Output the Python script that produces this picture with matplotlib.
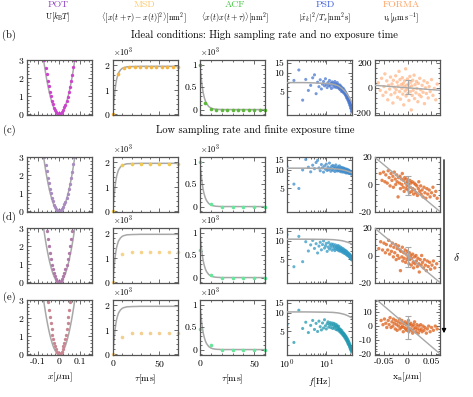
import numpy as np
import matplotlib
matplotlib.use("Agg")
import matplotlib.pyplot as plt
from matplotlib.patches import FancyArrowPatch
from matplotlib.ticker import AutoMinorLocator, NullFormatter

plt.rcParams.update({
    "font.family": "serif",
    "font.serif": ["cmr10", "DejaVu Serif"],
    "mathtext.fontset": "cm",
    "axes.formatter.use_mathtext": True,
    "font.size": 7,
})

# ---------------- data ----------------
# POT: binned potential (dots) and harmonic fit (gray)
pot_x_wide = [-0.07, -0.065, -0.06, -0.055, -0.05, -0.045, -0.04, -0.035, -0.03, -0.025, -0.02, -0.015, -0.01, -0.005, 0.0,
              0.005, 0.01, 0.015, 0.02, 0.025, 0.03, 0.035, 0.04, 0.045, 0.05, 0.055, 0.06, 0.065, 0.07]
pot_u_wide = [3.0, 2.58, 2.21, 1.84, 1.54, 1.23, 0.99, 0.74, 0.56, 0.37, 0.25, 0.13, 0.07, 0.02, 0.0,
              0.01, 0.06, 0.14, 0.23, 0.39, 0.54, 0.76, 0.97, 1.25, 1.52, 1.86, 2.19, 2.6, 2.99]
pot_x_d = [-0.06, -0.055, -0.05, -0.045, -0.04, -0.035, -0.03, -0.025, -0.02, -0.015, -0.01, -0.005, 0.0,
           0.005, 0.01, 0.015, 0.02, 0.025, 0.03, 0.035, 0.04, 0.045, 0.05, 0.055, 0.06]
pot_u_d = [2.85, 2.39, 1.98, 1.6, 1.27, 0.97, 0.71, 0.49, 0.32, 0.18, 0.08, 0.02, 0.0,
           0.02, 0.08, 0.18, 0.32, 0.49, 0.71, 0.97, 1.27, 1.6, 1.98, 2.39, 2.85]
pot_x_e = [-0.052, -0.048, -0.044, -0.04, -0.036, -0.032, -0.028, -0.024, -0.02, -0.016, -0.012, -0.008, -0.004, 0.0,
           0.004, 0.008, 0.012, 0.016, 0.02, 0.024, 0.028, 0.032, 0.036, 0.04, 0.044, 0.048, 0.052]
pot_u_e = [2.89, 2.46, 2.07, 1.71, 1.38, 1.09, 0.84, 0.62, 0.43, 0.27, 0.15, 0.07, 0.02, 0.0,
           0.02, 0.07, 0.15, 0.27, 0.43, 0.62, 0.84, 1.09, 1.38, 1.71, 2.07, 2.46, 2.89]
pot_fit_x = [-0.085, -0.08, -0.075, -0.07, -0.065, -0.06, -0.055, -0.05, -0.045, -0.04, -0.035, -0.03, -0.025, -0.02,
             -0.015, -0.01, -0.005, 0.0, 0.005, 0.01, 0.015, 0.02, 0.025, 0.03, 0.035, 0.04, 0.045, 0.05, 0.055,
             0.06, 0.065, 0.07, 0.075, 0.08, 0.085]
pot_fit_u = [3.96, 3.51, 3.08, 2.68, 2.31, 1.97, 1.66, 1.37, 1.11, 0.88, 0.67, 0.49, 0.34, 0.22,
             0.12, 0.05, 0.01, 0.0, 0.01, 0.05, 0.12, 0.22, 0.34, 0.49, 0.67, 0.88, 1.11, 1.37, 1.66,
             1.97, 2.31, 2.68, 3.08, 3.51, 3.96]

# MSD (x10^3 nm^2)
msd_tau_b = [0, 5.8, 11.7, 17.5, 23.3, 29.2, 35.0, 40.8, 46.7, 52.5, 58.3, 64.2, 70.0]
msd_b = [0, 1.65, 1.89, 1.93, 1.94, 1.94, 1.95, 1.94, 1.95, 1.94, 1.95, 1.95, 1.94]
msd_tau = [0, 10, 20, 30, 40, 50, 60, 70]
msd_c = [0, 1.89, 1.95, 1.95, 1.95, 1.95, 1.95, 1.95]
msd_d = [0, 1.15, 1.25, 1.25, 1.25, 1.25, 1.25, 1.25]
msd_e = [0, 0.70, 0.88, 0.88, 0.88, 0.88, 0.88, 0.88]
msd_fit_tau = [0, 0.5, 1, 2, 3, 4, 5, 6, 8, 10, 12, 15, 20, 30, 70]
msd_fit = [0, 0.30, 0.55, 0.95, 1.23, 1.44, 1.58, 1.69, 1.81, 1.88, 1.91, 1.94, 1.95, 1.96, 1.96]

# ACF (x10^3 nm^2)
acf_tau_b = [0, 5, 10, 15, 20, 25, 30, 35, 40, 45, 50, 55, 60]
acf_b = [1.0, 0.15, 0.01, 0, 0, 0, 0, 0, 0, 0, 0, 0, 0]
acf_tau = [0, 10, 20, 30, 40, 50, 60]
acf_c = [1.0, 0.05, 0, 0, 0, 0, 0]
acf_d = [0.62, 0.05, 0, 0, 0, 0, 0]
acf_e = [0.45, 0.10, 0, 0, 0, 0, 0]
acf_fit_tau = [0, 0.5, 1, 2, 3, 4, 5, 6, 8, 10, 12, 15, 20, 60]
acf_fit = [1.0, 0.846, 0.717, 0.513, 0.368, 0.264, 0.189, 0.135, 0.069, 0.036, 0.018, 0.007, 0.001, 0.0]

# PSD
psd_f = np.arange(1.0, 45.0, 0.5)
psd_b = [4.0, 7.6, 11.3, 3.6, 7.9, 5.2, 6.3, 8.4, 9.4, 4.6, 7.1, 6.0, 7.8, 5.5, 6.6, 7.3, 6.2, 8.1,
         6.5, 5.8, 7.0, 6.3, 7.6, 6.1, 6.8, 5.6, 7.2, 6.4, 6.9, 5.9, 6.6, 7.3, 6.1, 6.7, 5.8, 6.4, 7.0, 6.0,
         6.5, 5.7, 6.2, 5.5, 6.4, 5.9, 5.3, 6.1, 5.6, 5.0, 5.8, 5.2, 5.5, 4.9, 5.6, 5.1, 4.7, 5.3, 4.8, 5.0,
         4.5, 4.9, 4.3, 4.7, 4.4, 4.0, 4.5, 4.1, 3.8, 4.2, 3.9, 3.6, 4.0, 3.5, 3.7, 3.3, 3.6, 3.2, 3.4, 3.0,
         3.3, 2.9, 3.1, 2.7, 3.0, 2.6, 2.8, 2.4, 2.6, 2.3]
psd_c = [11.5, 5.9, 5.0, 10.1, 15.0, 11.2, 9.4, 12.1, 10.6, 13.4, 14.5, 10.9, 9.8, 12.4, 11.0, 9.3, 11.8, 10.4,
         12.6, 9.9, 11.3, 10.2, 13.1, 10.7, 9.6, 11.5, 10.3, 12.0, 9.9, 10.8, 11.6, 9.5, 10.9, 12.2, 10.1, 11.0,
         9.7, 10.6, 11.4, 9.9, 10.5, 11.8, 9.6, 10.7, 10.0, 11.2, 9.4, 10.4, 11.0, 9.8, 10.6, 9.3, 10.9, 10.1,
         9.5, 10.7, 9.9, 10.3, 9.2, 10.5, 9.7, 10.1, 9.0, 9.9, 10.4, 9.4, 9.8, 9.1, 10.2, 9.5, 9.0, 9.8, 9.3,
         10.0, 8.9, 9.6, 9.2, 9.7, 8.8, 9.4, 9.0, 9.5, 8.7, 9.2, 8.9, 9.3, 8.6, 9.0]
psd_d = [12.8, 3.8, 12.0, 4.6, 9.8, 6.9, 8.7, 10.3, 7.6, 9.1, 6.4, 8.3, 9.6, 7.2, 8.8, 10.1, 7.7, 8.4,
         9.2, 6.8, 8.0, 9.5, 7.4, 8.6, 7.9, 9.0, 7.1, 8.3, 8.9, 7.5, 8.1, 7.0, 8.7, 7.6, 8.2, 7.3, 7.9, 8.5,
         7.1, 7.7, 8.3, 6.9, 7.6, 7.2, 8.0, 6.8, 7.4, 7.0, 7.7, 6.6, 7.2, 6.9, 7.5, 6.4, 7.0, 6.7, 7.2, 6.3,
         6.8, 6.5, 7.0, 6.1, 6.6, 6.3, 6.8, 5.9, 6.4, 6.1, 6.5, 5.8, 6.2, 5.9, 6.3, 5.6, 6.0, 5.7, 6.1, 5.4,
         5.8, 5.5, 5.9, 5.3, 5.6, 5.2, 5.5, 5.0, 5.3, 4.9]
psd_e = [6.5, 3.3, 11.2, 5.6, 7.1, 4.8, 6.3, 7.6, 5.4, 6.8, 5.0, 7.4, 6.0, 5.3, 6.9, 5.7, 7.8, 6.2,
         5.5, 6.7, 7.2, 5.9, 6.5, 7.0, 5.8, 6.4, 6.9, 5.6, 6.3, 6.8, 5.7, 6.1, 6.6, 5.4, 6.0, 6.4, 5.3, 5.9,
         5.5, 6.1, 5.1, 5.6, 5.3, 4.9, 5.4, 5.0, 4.7, 5.2, 4.8, 4.5, 4.9, 4.6, 4.3, 4.7, 4.4, 4.1, 4.5, 4.2,
         3.9, 4.3, 4.0, 3.7, 4.1, 3.8, 3.5, 3.9, 3.6, 3.3, 3.7, 3.4, 3.1, 3.5, 3.2, 3.0, 3.3, 3.0, 2.8, 3.1,
         2.8, 2.6, 2.9, 2.7, 2.5, 2.7, 2.4, 2.6, 2.3, 2.5]
psd_fit_f = [1, 3, 10, 15, 20, 25, 30, 35, 40, 45]
psd_fit_b = [7.0, 7.0, 6.8, 6.6, 6.2, 5.6, 5.0, 4.4, 3.8, 3.3]
psd_fit_c = [10.8, 10.8, 10.7, 10.6, 10.4, 10.2, 9.9, 9.6, 9.3, 9.1]
psd_fit_d = [10.8, 10.8, 10.7, 10.6, 10.4, 10.2, 9.9, 9.6, 9.3, 9.0]
psd_fit_e = [10.5, 10.5, 10.4, 10.3, 10.1, 9.8, 9.5, 9.1, 8.7, 8.4]

# FORMA: local drift velocity vs position
forma_x_b = [-0.062, -0.058, -0.055, -0.052, -0.050, -0.048, -0.046, -0.044, -0.042, -0.040,
             -0.038, -0.036, -0.035, -0.033, -0.031, -0.030, -0.028, -0.027, -0.025, -0.024,
             -0.022, -0.021, -0.020, -0.018, -0.017, -0.016, -0.015, -0.013, -0.012, -0.011,
             -0.010, -0.009, -0.008, -0.007, -0.006, -0.005, -0.004, -0.003, -0.002, -0.001,
             0.000, 0.001, 0.002, 0.003, 0.004, 0.005, 0.006, 0.007, 0.008, 0.009,
             0.010, 0.011, 0.012, 0.014, 0.015, 0.016, 0.018, 0.019, 0.020, 0.022,
             0.023, 0.025, 0.026, 0.028, 0.029, 0.031, 0.033, 0.035, 0.036, 0.038,
             0.040, 0.042, 0.044, 0.046, 0.048, 0.051, 0.054, 0.057, 0.060, 0.063]
forma_v_b = [40, -20, 75, -60, 10, 110, -35, 55, -95, 20,
             -10, 85, -55, 30, -120, 60, 5, -40, 95, -15,
             45, -75, 15, 130, -30, 65, -90, 25, -5, 80,
             -50, 35, -135, 10, 55, -25, 150, -65, 20, -10,
             70, -45, 30, -100, 5, 90, -30, 45, -175, 15,
             -60, 60, -20, 100, -85, 25, -40, 50, -5, -110,
             35, -55, 75, -15, -70, 20, -35, 55, -125, 0,
             -45, 40, -80, 10, -30, 65, -60, -5, -95, 30]
forma_x_c = [-0.058, -0.054, -0.051, -0.048, -0.046, -0.043, -0.041, -0.039, -0.037, -0.035,
             -0.033, -0.031, -0.030, -0.028, -0.026, -0.025, -0.023, -0.022, -0.020, -0.019,
             -0.017, -0.016, -0.015, -0.013, -0.012, -0.011, -0.009, -0.008, -0.007, -0.006,
             -0.004, -0.003, -0.002, -0.001, 0.000, 0.001, 0.002, 0.004, 0.005, 0.006,
             0.007, 0.009, 0.010, 0.011, 0.013, 0.014, 0.015, 0.017, 0.018, 0.020,
             0.021, 0.023, 0.024, 0.026, 0.028, 0.029, 0.031, 0.033, 0.035, 0.037,
             0.039, 0.041, 0.043, 0.046, 0.048, 0.051, 0.054, 0.057, 0.060, 0.063]
forma_v_c = [8, 3, 9, 2, 7, 1, 10, 5, -1, 8,
             3, 6, -2, 9, 4, 0, 7, 2, -9, 5,
             1, 6, -3, 4, 0, 8, -2, 3, -5, 5,
             1, -3, 4, -1, 2, -4, 0, -6, 3, -2,
             1, -5, 2, -3, -7, 1, -4, 0, -6, -1,
             -8, -3, 2, -5, -1, -7, -4, -9, -2, -6,
             -10, -3, -7, -4, -9, -6, -2, -8, -5, -10]
forma_x_d = [-0.061, -0.057, -0.053, -0.050, -0.047, -0.045, -0.042, -0.040, -0.038, -0.036,
             -0.034, -0.032, -0.030, -0.029, -0.027, -0.025, -0.024, -0.022, -0.021, -0.019,
             -0.018, -0.016, -0.015, -0.014, -0.012, -0.011, -0.010, -0.008, -0.007, -0.005,
             -0.004, -0.003, -0.001, 0.000, 0.001, 0.003, 0.004, 0.005, 0.007, 0.008,
             0.009, 0.011, 0.012, 0.013, 0.015, 0.016, 0.018, 0.019, 0.021, 0.022,
             0.024, 0.025, 0.027, 0.029, 0.030, 0.032, 0.034, 0.036, 0.038, 0.040,
             0.042, 0.044, 0.047, 0.049, 0.052, 0.055, 0.058, 0.062]
forma_v_d = [5, 10, 4, 9, 2, 8, 4, 11, 1, 7,
             3, 9, -1, 6, 2, 8, -3, 5, 0, 7,
             -2, 4, -11, 3, -1, 6, -4, 2, -2, 4,
             -5, 1, -3, 3, -1, -6, 2, -3, 0, -7,
             -2, 1, -5, -9, -1, -6, 0, -4, -8, -2,
             -6, -12, -3, -7, 0, -5, -9, -3, -7, -11,
             -4, -8, -5, -10, -7, -4, -9, -6]
forma_x_e = [-0.056, -0.052, -0.049, -0.046, -0.044, -0.041, -0.039, -0.037, -0.035, -0.033,
             -0.031, -0.030, -0.028, -0.026, -0.025, -0.023, -0.022, -0.020, -0.019, -0.017,
             -0.016, -0.015, -0.013, -0.012, -0.011, -0.009, -0.008, -0.007, -0.005, -0.004,
             -0.003, -0.002, 0.000, 0.001, 0.002, 0.003, 0.005, 0.006, 0.007, 0.009,
             0.010, 0.011, 0.013, 0.014, 0.015, 0.017, 0.018, 0.020, 0.021, 0.023,
             0.024, 0.026, 0.028, 0.029, 0.031, 0.033, 0.035, 0.037, 0.040, 0.042,
             0.045, 0.048, 0.051, 0.055, 0.059, 0.063]
forma_v_e = [4, 1, 5, 2, -1, 4, 1, 6, -1, 3,
             0, 5, 2, -2, 4, 1, -3, 3, 0, 5,
             -2, 2, -1, 4, 0, -4, 2, -1, 3, -2,
             1, -3, 2, -1, 4, -4, 1, -2, 2, -3,
             0, -5, 1, -2, 3, -1, -4, 1, -2, -5,
             0, -3, 1, -2, -4, 0, -3, -1, -5, -2,
             0, -4, -1, -3, 0, -2]
forma_line_x = [-0.075, 0.075]
forma_line_v = [21.4, -21.4]
forma_err_x = [0.0, 0.0, 0.0, 0.0]
forma_err_v = [3, -1, -1, -1]
forma_err_size = [55, 7, 7, 8]

# ---------------- style ----------------
title_cols = ["#8e44c4", "#ffc966", "#44c444", "#3f5fe0", "#ffa15f"]
pot_cols = ["#cc44cc", "#a98bc0", "#b07aa8", "#c98590"]
msd_cols = ["#f5b440", "#f2c94c", "#f7d38a", "#f3cf8f"]
acf_cols = ["#5cb83a", "#66e69a", "#66e69a", "#66e69a"]
psd_cols = ["#4a78d0", "#3f8ccc", "#3399c4", "#2299b0"]
forma_cols = ["#ffa56a", "#dd5f18", "#dd5f18", "#dd5f18"]
forma_alpha = [0.6, 0.75, 0.75, 0.75]
fit_col = "#a8a8a8"
spine_col = "#555555"

W, H = 473, 397
col_x = [27, 113, 200, 287, 375]
row_y = [60, 157, 228, 300]
aw, ah = 65, 55

fig = plt.figure(figsize=(4.73, 3.97), dpi=100)


def make_ax(r, c):
    ax = fig.add_axes([col_x[c] / W, 1 - (row_y[r] + ah) / H, aw / W, ah / H])
    for s in ax.spines.values():
        s.set_color(spine_col)
        s.set_linewidth(0.9)
    ax.tick_params(which="both", direction="in", top=True, right=True, color=spine_col,
                   width=0.6, labelsize=7, pad=2)
    ax.tick_params(which="major", length=3)
    ax.tick_params(which="minor", length=1.5)
    if r < 3:
        ax.tick_params(labelbottom=False)
    return ax


pot_xs = [pot_x_wide, pot_x_wide, pot_x_d, pot_x_e]
pot_us = [pot_u_wide, pot_u_wide, pot_u_d, pot_u_e]
msd_taus = [msd_tau_b, msd_tau, msd_tau, msd_tau]
msds = [msd_b, msd_c, msd_d, msd_e]
acf_taus = [acf_tau_b, acf_tau, acf_tau, acf_tau]
acfs = [acf_b, acf_c, acf_d, acf_e]
psds = [psd_b, psd_c, psd_d, psd_e]
psd_fits = [psd_fit_b, psd_fit_c, psd_fit_d, psd_fit_e]
forma_xs = [forma_x_b, forma_x_c, forma_x_d, forma_x_e]
forma_vs = [forma_v_b, forma_v_c, forma_v_d, forma_v_e]

for r in range(4):
    # POT
    ax = make_ax(r, 0)
    ax.plot(pot_fit_x, pot_fit_u, color=fit_col, lw=1.1, zorder=1)
    ax.plot(pot_xs[r], pot_us[r], "o", ms=2.4, color=pot_cols[r], mec="none", zorder=2)
    ax.set_xlim(-0.153, 0.156)
    ax.set_ylim(-0.04, 3.0)
    ax.set_xticks([-0.1, 0, 0.1])
    ax.set_xticklabels(["-0.1", "0", "0.1"])
    ax.set_yticks([0, 1, 2, 3])
    ax.xaxis.set_minor_locator(AutoMinorLocator(5))
    ax.yaxis.set_minor_locator(AutoMinorLocator(5))
    if r == 3:
        ax.set_xlabel(r"$x[\mu\mathrm{m}]$", fontsize=7, labelpad=3)

    # MSD
    ax = make_ax(r, 1)
    ax.plot(msd_fit_tau, msd_fit, color=fit_col, lw=1.1, zorder=1)
    ax.plot(msd_taus[r], msds[r], "o", ms=2.6, color=msd_cols[r], mec="none", zorder=2, clip_on=False)
    ax.set_xlim(0, 70)
    ax.set_ylim(-0.04, 2.22)
    ax.set_xticks([0, 50])
    ax.set_yticks([0, 1, 2])
    ax.xaxis.set_minor_locator(AutoMinorLocator(5))
    ax.yaxis.set_minor_locator(AutoMinorLocator(5))
    ax.text(0, 1.03, r"$\times10^3$", transform=ax.transAxes, fontsize=6, ha="left", va="bottom")
    if r == 3:
        ax.set_xlabel(r"$\tau[\mathrm{ms}]$", fontsize=7, labelpad=3)

    # ACF
    ax = make_ax(r, 2)
    ax.plot(acf_fit_tau, acf_fit, color=fit_col, lw=1.1, zorder=1)
    ax.plot(acf_taus[r], acfs[r], "o", ms=2.6, color=acf_cols[r], mec="none", zorder=2, clip_on=False)
    ax.set_xlim(0, 60)
    ax.set_ylim(-0.12, 1.1)
    ax.set_xticks([0, 50])
    ax.set_yticks([0, 0.5, 1])
    ax.set_yticklabels(["0", "0.5", "1"])
    ax.xaxis.set_minor_locator(AutoMinorLocator(5))
    ax.yaxis.set_minor_locator(AutoMinorLocator(5))
    ax.text(0, 1.03, r"$\times10^3$", transform=ax.transAxes, fontsize=6, ha="left", va="bottom")
    if r == 3:
        ax.set_xlabel(r"$\tau[\mathrm{ms}]$", fontsize=7, labelpad=3)

    # PSD
    ax = make_ax(r, 3)
    ax.scatter(psd_f, psds[r], s=5, color=psd_cols[r], alpha=0.75, edgecolors="none", zorder=2)
    ax.plot(psd_fit_f, psd_fits[r], color=fit_col, lw=1.1, zorder=3)
    ax.set_xscale("log")
    ax.set_yscale("log")
    ax.set_xlim(1, 45)
    ax.set_ylim(2.05, 16.5)
    ax.set_yticks([5, 10, 15])
    ax.set_yticklabels(["5", "10", "15"])
    ax.yaxis.set_minor_formatter(NullFormatter())
    ax.xaxis.set_minor_formatter(NullFormatter())
    if r == 3:
        ax.set_xlabel(r"$f[\mathrm{Hz}]$", fontsize=7, labelpad=3)

    # FORMA
    ax = make_ax(r, 4)
    ax.scatter(forma_xs[r], forma_vs[r], s=6, color=forma_cols[r], alpha=forma_alpha[r],
               edgecolors="none", zorder=2)
    ax.plot(forma_line_x, forma_line_v, color=fit_col, lw=1.0, zorder=3)
    ax.errorbar(forma_err_x[r], forma_err_v[r], yerr=forma_err_size[r], color=fit_col, lw=0.8,
                capsize=2, capthick=0.8, zorder=4)
    ax.set_xlim(-0.069, 0.069)
    ax.set_xticks([-0.05, 0, 0.05])
    ax.set_xticklabels(["-0.05", "0", "0.05"])
    ax.xaxis.set_minor_locator(AutoMinorLocator(5))
    ax.yaxis.set_minor_locator(AutoMinorLocator(5))
    if r == 0:
        ax.set_ylim(-215, 220)
        ax.set_yticks([-200, 0, 200])
        ax.set_yticklabels(["-200", "0", "200"])
    elif r == 3:
        ax.set_ylim(-20.5, 18.5)
        ax.set_yticks([-20, -10, 0, 10])
        ax.set_yticklabels(["-20", "-10", "0", "10"])
    else:
        ax.set_ylim(-20, 20)
        ax.set_yticks([-20, 0, 20])
        ax.set_yticklabels(["-20", "0", "20"])
    if r == 3:
        ax.set_xlabel(r"$\mathrm{x_n}[\mu\mathrm{m}]$", fontsize=7, labelpad=3)

# column headers
titles = ["POT", "MSD", "ACF", "PSD", "FORMA"]
units = [r"U$[k_\mathrm{B}T]$",
         r"$\langle[x(t+\tau)-x(t)]^2\rangle[\mathrm{nm}^2]$",
         r"$\langle x(t)x(t+\tau)\rangle[\mathrm{nm}^2]$",
         r"$|\hat{x}_k|^2/T_s[\mathrm{nm}^2\,\mathrm{s}]$",
         r"$v_\mathrm{s}[\mu\mathrm{m\,s}^{-1}]$"]
title_x = [58, 144, 235, 325, 401]
for i in range(5):
    fig.text(title_x[i] / W, 1 - 0.5 / H, titles[i], color=title_cols[i], fontsize=7, ha="center", va="top")
    fig.text(title_x[i] / W, 1 - 10.5 / H, units[i], fontsize=5.8, ha="center", va="top")

# section labels
fig.text(9 / W, 1 - 35 / H, "(b)", fontsize=7.5, ha="center", va="center")
fig.text(264 / W, 1 - 35 / H, "Ideal conditions: High sampling rate and no exposure time",
         fontsize=7.5, ha="center", va="center")
fig.text(9 / W, 1 - 130 / H, "(c)", fontsize=7.5, ha="center", va="center")
fig.text(255 / W, 1 - 130 / H, "Low sampling rate and finite exposure time",
         fontsize=7.5, ha="center", va="center")
fig.text(9 / W, 1 - 217 / H, "(d)", fontsize=7.5, ha="center", va="center")
fig.text(9 / W, 1 - 297 / H, "(e)", fontsize=7.5, ha="center", va="center")

# delta arrow on the right
arr = FancyArrowPatch((444 / W, 1 - 157 / H), (444 / W, 1 - 336 / H), transform=fig.transFigure,
                      arrowstyle="-|>", mutation_scale=6, lw=0.9, color="black")
fig.add_artist(arr)
fig.text(457 / W, 1 - 257 / H, r"$\delta$", fontsize=8, ha="center", va="center")

fig.savefig("out.png", dpi=100)
